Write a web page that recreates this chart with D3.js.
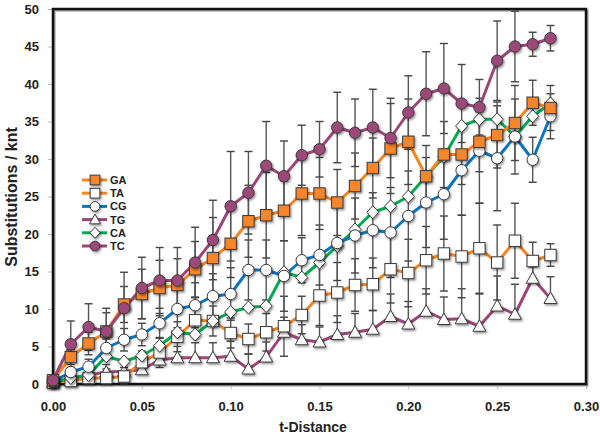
<!DOCTYPE html>
<html><head><meta charset="utf-8">
<script src="https://cdn.jsdelivr.net/npm/d3@7/dist/d3.min.js"></script>
<style>
body{margin:0;background:#fff;}
text{font-family:"Liberation Sans",Arial,sans-serif;font-weight:bold;}
</style></head>
<body><svg id="c" width="600" height="437"></svg>
<script>
const tDist = [0.00,0.01,0.02,0.03,0.04,0.05,0.06,0.07,0.08,0.09,0.10,0.11,0.12,0.13,0.14,0.15,0.16,0.17,0.18,0.19,0.20,0.21,0.22,0.23,0.24,0.25,0.26,0.27,0.28];
const seriesNames = ["GA","TA","CG","TG","CA","TC"];
const GA = [0.5,3.6,5.4,7.0,10.6,12.0,12.8,13.2,15.3,16.8,18.7,21.7,22.5,23.1,25.4,25.4,24.2,26.4,28.8,31.4,32.3,27.7,30.6,30.6,32.3,33.2,34.8,37.5,36.8];
const TA = [0.2,0.4,0.8,0.8,1.0,2.9,4.2,6.3,8.5,8.4,6.8,6.0,6.9,7.7,9.2,11.8,12.2,13.2,13.3,15.3,14.8,16.5,17.4,17.0,18.1,16.2,19.1,16.4,17.2];
const CG = [0.3,1.6,2.3,4.8,5.9,6.6,8.1,10.0,10.5,11.7,12.0,15.2,15.2,14.4,16.5,17.2,18.8,19.8,20.5,20.2,22.4,24.2,25.3,28.5,31.1,30.1,33.0,29.9,35.7];
const TG = [0.2,0.5,1.2,1.6,1.7,1.9,3.2,3.5,3.5,3.5,3.7,2.0,3.6,6.9,5.9,5.6,6.6,6.9,7.3,9.0,8.0,9.7,8.6,8.7,7.7,10.4,9.3,14.1,11.4];
const CA = [0.2,0.8,1.2,3.7,3.0,3.8,5.1,6.9,6.6,8.4,9.6,10.2,10.4,14.9,14.2,16.2,18.4,20.6,22.9,23.7,25.0,27.7,30.3,34.4,35.3,35.3,33.0,35.7,37.4];
const TC = [0.5,5.3,7.6,7.0,10.1,12.8,13.8,13.8,16.2,19.2,23.7,25.5,29.1,27.7,30.5,31.3,34.2,33.5,34.2,32.8,36.2,38.7,39.4,37.4,36.9,43.1,45.0,45.3,46.1];
const errGA = [0.3,1.0,1.5,2.5,2.4,3.3,3.7,3.5,3.7,5.4,4.5,4.8,5.7,4.0,5.6,4.8,4.4,4.4,4.0,6.0,5.7,4.1,4.4,4.0,4.0,4.4,5.0,3.0,3.0];
const errTA = [0.2,0.6,1.0,1.2,1.2,1.5,2.0,2.0,2.0,2.0,2.0,2.0,2.5,4.0,2.5,4.0,4.0,3.5,3.5,4.5,4.5,4.5,5.0,5.5,6.0,5.0,5.0,2.5,1.5];
const errCG = [0.2,0.5,1.0,1.2,1.5,1.5,2.0,2.5,3.0,3.0,3.5,4.0,4.0,4.7,3.0,4.0,5.0,5.0,5.0,6.0,6.0,6.0,6.0,6.0,7.0,7.0,5.0,3.0,3.0];
const errTG = [0.1,0.5,0.8,1.0,1.5,1.5,1.5,1.5,2.0,2.0,2.0,2.0,2.0,2.0,2.0,2.0,2.5,2.5,2.5,3.0,3.0,3.0,3.0,4.0,4.3,4.0,4.0,1.5,2.9];
const errTC = [0.3,3.1,3.1,3.1,4.8,4.1,4.4,4.4,4.7,5.3,7.3,5.5,5.9,4.7,4.0,3.7,4.7,4.5,5.1,5.3,4.9,5.6,6.0,5.2,3.7,5.3,4.7,1.6,1.7];
const xTicks = [0,0.05,0.10,0.15,0.20,0.25,0.30];
const yTicks = [0,5,10,15,20,25,30,35,40,45,50];

const series = [
  {name:"TG", v:TG, e:errTG, upOnly:true, line:"#9B4677", shape:"tri", fill:"#fff"},
  {name:"TA", v:TA, e:errTA, line:"#F7841F", shape:"sq", fill:"#fff"},
  {name:"CA", v:CA, e:null, line:"#00AA4F", shape:"dia", fill:"#fff"},
  {name:"CG", v:CG, e:errCG, line:"#0D74C0", shape:"circ", fill:"#fff"},
  {name:"GA", v:GA, e:errGA, line:"#F7841F", shape:"sq", fill:"#F7862A"},
  {name:"TC", v:TC, e:errTC, line:"#9B4677", shape:"circ", fill:"#9C4A7A"}
];
const legendOrder = ["GA","TA","CG","TG","CA","TC"];

const svg = d3.select("#c");
const L=53,R=586,T=9,B=384;
const x = d3.scaleLinear().domain([0,0.3]).range([L,R]);
const y = d3.scaleLinear().domain([0,50]).range([B,T]);

const defs = svg.append("defs");
const f = defs.append("filter").attr("id","sh").attr("x","-50%").attr("y","-50%").attr("width","200%").attr("height","200%");
f.append("feDropShadow").attr("dx",1.2).attr("dy",1.5).attr("stdDeviation",0.8).attr("flood-color","#000").attr("flood-opacity",0.45);

// axes
const xa = svg.append("g").attr("transform",`translate(0,${B})`)
  .call(d3.axisBottom(x).tickValues(xTicks).tickFormat(d3.format(".2f")).tickSize(5).tickPadding(13));
xa.select(".domain").remove();
xa.selectAll("line").attr("stroke","#bbb");
xa.selectAll("text").attr("font-size",13).attr("fill","#222");
const ya = svg.append("g").attr("transform",`translate(${L},0)`)
  .call(d3.axisLeft(y).tickValues(yTicks).tickFormat(d3.format("d")).tickSize(5).tickPadding(9));
ya.select(".domain").remove();
ya.selectAll("line").attr("stroke","#bbb");
ya.selectAll("text").attr("font-size",13).attr("fill","#222");

// frame
svg.append("rect").attr("x",L+1.5).attr("y",T+1.5).attr("width",R-L).attr("height",B-T)
  .attr("fill","none").attr("stroke","#999").attr("stroke-width",2);
svg.append("rect").attr("x",L).attr("y",T).attr("width",R-L).attr("height",B-T)
  .attr("fill","none").attr("stroke","#111").attr("stroke-width",2.5);

// error bars
const eb = svg.append("g");
series.forEach(s=>{
  if(!s.e) return;
  s.v.forEach((v,i)=>{
    const e=s.e[i]; const xx=x(tDist[i]);
    const lo=s.upOnly ? v : Math.max(0,v-e), hi=v+e;
    eb.append("line").attr("x1",xx).attr("x2",xx).attr("y1",y(lo)).attr("y2",y(hi)).attr("stroke","#555").attr("stroke-width",1.4);
    const caps = s.upOnly ? [hi] : [lo,hi];
    caps.forEach(q=>eb.append("line").attr("x1",xx-4).attr("x2",xx+4).attr("y1",y(q)).attr("y2",y(q)).attr("stroke","#444").attr("stroke-width",1.4));
  });
});

function marker(g, shape, cx, cy, fill, sc){
  sc = sc||1;
  let el;
  if(shape==="circ") el=g.append("circle").attr("cx",cx).attr("cy",cy).attr("r",5.7*sc);
  else if(shape==="sq") el=g.append("rect").attr("x",cx-5.7*sc).attr("y",cy-5.7*sc).attr("width",11.4*sc).attr("height",11.4*sc);
  else if(shape==="dia") el=g.append("path").attr("d",`M${cx},${cy-6.5*sc}L${cx+6*sc},${cy}L${cx},${cy+6.5*sc}L${cx-6*sc},${cy}Z`);
  else el=g.append("path").attr("d",`M${cx},${cy-6.5*sc}L${cx+6.5*sc},${cy+5*sc}L${cx-6.5*sc},${cy+5*sc}Z`);
  el.attr("fill",fill).attr("stroke","#3a3a3a").attr("stroke-width",1).attr("filter","url(#sh)");
}

const line = d3.line().x((d,i)=>x(tDist[i])).y(d=>y(d));
series.forEach(s=>{
  svg.append("path").datum(s.v).attr("d",line).attr("fill","none").attr("stroke",s.line).attr("stroke-width",3).attr("stroke-linejoin","round");
});
series.forEach(s=>{
  const g=svg.append("g");
  s.v.forEach((v,i)=>marker(g,s.shape,x(tDist[i]),y(v),s.fill));
});

// legend
const lg = svg.append("g");
legendOrder.forEach((n,k)=>{
  const s = series.find(d=>d.name===n);
  const yy = 180 + k*13.2;
  lg.append("line").attr("x1",82).attr("x2",107).attr("y1",yy).attr("y2",yy).attr("stroke",s.line).attr("stroke-width",3);
  marker(lg,s.shape,95,yy,s.fill,0.85);
  lg.append("text").attr("x",110).attr("y",yy+4).attr("font-size",11).attr("fill","#222").text(n);
});

// titles
svg.append("text").attr("x",313).attr("y",432).attr("text-anchor","middle").attr("font-size",14).attr("fill","#222").text("t-Distance");
svg.append("text").attr("transform","translate(17,197) rotate(-90)").attr("text-anchor","middle").attr("font-size",16).attr("fill","#222").text("Substitutions / knt");
</script></body></html>
